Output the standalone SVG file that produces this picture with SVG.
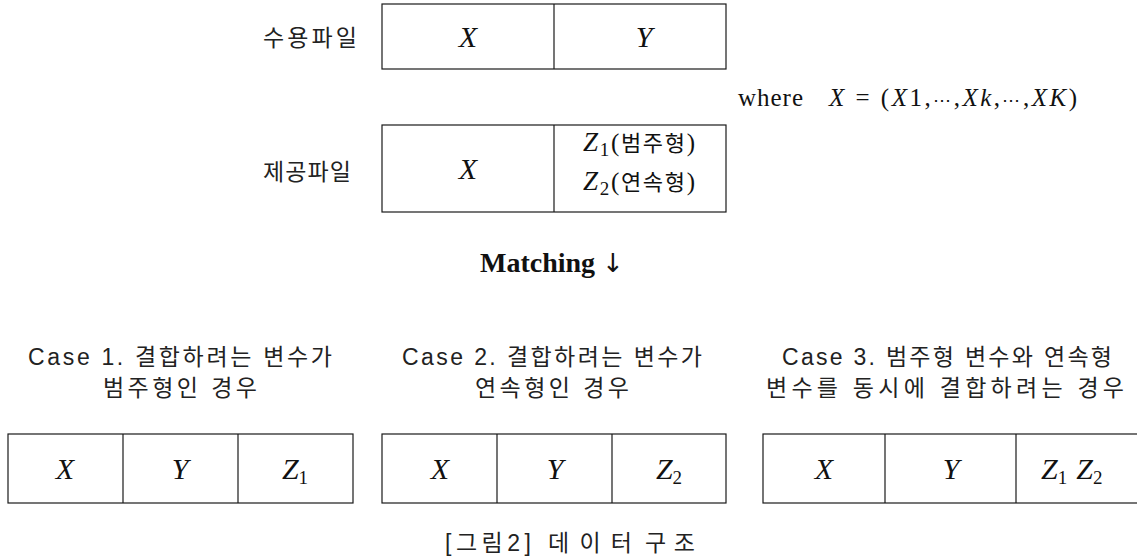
<svg xmlns="http://www.w3.org/2000/svg" width="1137" height="560" viewBox="0 0 1137 560">
<style>
.box{fill:#fff;stroke:#1a1a1a;stroke-width:1.2}
.div{stroke:#1a1a1a;stroke-width:1.2}
.kr{font-family:'Liberation Sans','Noto Sans CJK KR','Noto Sans CJK SC',sans-serif;font-size:23px;fill:#222}
.math{font-family:'Liberation Serif','Noto Sans CJK KR',serif;font-size:30px;font-style:italic;fill:#111}
.sub{font-style:normal;font-size:19px}
.mix{font-family:'Liberation Serif','Noto Sans CJK KR',serif;font-size:25px;fill:#111}
.dots{font-family:'DejaVu Serif',serif;font-size:18px}
</style>
<g id="receiving-file">
  <text class="kr" x="310" y="46" text-anchor="middle" textLength="94" lengthAdjust="spacing">수용파일</text>
  <rect class="box" x="382" y="4" width="344" height="65"/>
  <line class="div" x1="554" y1="4" x2="554" y2="69"/>
  <text class="math" x="468" y="47" text-anchor="middle">X</text>
  <text class="math" x="644" y="47" text-anchor="middle">Y</text>
</g>
<g id="where-note">
  <text class="mix" x="738" y="106" textLength="65" lengthAdjust="spacing">where</text>
  <text class="mix" x="829" y="106" textLength="248" lengthAdjust="spacing"><tspan font-style="italic">X</tspan> = (<tspan font-style="italic">X</tspan>1,<tspan class="dots">⋯</tspan>,<tspan font-style="italic">Xk</tspan>,<tspan class="dots">⋯</tspan>,<tspan font-style="italic">XK</tspan>)</text>
</g>
<g id="providing-file">
  <text class="kr" x="307" y="180" text-anchor="middle" textLength="88" lengthAdjust="spacing">제공파일</text>
  <rect class="box" x="382" y="125" width="344" height="87"/>
  <line class="div" x1="554" y1="125" x2="554" y2="212"/>
  <text class="math" x="468" y="179" text-anchor="middle">X</text>
  <text class="mix" x="583" y="151" textLength="112" lengthAdjust="spacing"><tspan font-style="italic" font-size="27">Z</tspan><tspan class="sub" dy="5">1</tspan><tspan dy="-5">(</tspan><tspan font-family="Noto Sans CJK KR" font-size="22">범주형</tspan>)</text>
  <text class="mix" x="583" y="190" textLength="112" lengthAdjust="spacing"><tspan font-style="italic" font-size="27">Z</tspan><tspan class="sub" dy="5">2</tspan><tspan dy="-5">(</tspan><tspan font-family="Noto Sans CJK KR" font-size="22">연속형</tspan>)</text>
</g>
<g id="matching">
  <text x="480" y="272" font-family="'Liberation Serif',serif" font-weight="bold" font-size="28" fill="#111">Matching <tspan font-family="'DejaVu Sans',sans-serif" font-weight="normal" font-size="26">↓</tspan></text>
</g>
<g id="case1">
  <text class="kr" x="28" y="365" textLength="304" lengthAdjust="spacing">Case 1. 결합하려는 변수가</text>
  <text class="kr" x="180" y="396" text-anchor="middle" textLength="154" lengthAdjust="spacing">범주형인 경우</text>
  <rect class="box" x="8" y="434" width="345" height="69"/>
  <line class="div" x1="123" y1="434" x2="123" y2="503"/>
  <line class="div" x1="238" y1="434" x2="238" y2="503"/>
  <text class="math" x="65" y="479" text-anchor="middle">X</text>
  <text class="math" x="180" y="479" text-anchor="middle">Y</text>
  <text class="math" x="295" y="479" text-anchor="middle" font-size="27">Z<tspan class="sub" dy="5">1</tspan></text>
</g>
<g id="case2">
  <text class="kr" x="402" y="365" textLength="300" lengthAdjust="spacing">Case 2. 결합하려는 변수가</text>
  <text class="kr" x="552" y="396" text-anchor="middle" textLength="154" lengthAdjust="spacing">연속형인 경우</text>
  <rect class="box" x="382" y="434" width="344" height="69"/>
  <line class="div" x1="497" y1="434" x2="497" y2="503"/>
  <line class="div" x1="612" y1="434" x2="612" y2="503"/>
  <text class="math" x="440" y="479" text-anchor="middle">X</text>
  <text class="math" x="555" y="479" text-anchor="middle">Y</text>
  <text class="math" x="669" y="479" text-anchor="middle" font-size="27">Z<tspan class="sub" dy="5">2</tspan></text>
</g>
<g id="case3">
  <text class="kr" x="782" y="365" textLength="330" lengthAdjust="spacing">Case 3. 범주형 변수와 연속형</text>
  <text class="kr" x="945" y="396" text-anchor="middle" textLength="358" lengthAdjust="spacing">변수를 동시에 결합하려는 경우</text>
  <rect class="box" x="763" y="434" width="380" height="69"/>
  <line class="div" x1="885" y1="434" x2="885" y2="503"/>
  <line class="div" x1="1016" y1="434" x2="1016" y2="503"/>
  <text class="math" x="824" y="479" text-anchor="middle">X</text>
  <text class="math" x="951" y="479" text-anchor="middle">Y</text>
  <text class="math" x="1041" y="479" font-size="27">Z<tspan class="sub" dy="5">1</tspan><tspan dy="-5" dx="9">Z</tspan><tspan class="sub" dy="5">2</tspan></text>
</g>
<g id="connectors"></g>
<g id="caption">
  <text class="kr" y="551"><tspan x="445" textLength="86" lengthAdjust="spacing">[그림2]</tspan><tspan x="548" textLength="84" lengthAdjust="spacing">데이터</tspan><tspan x="645" textLength="50" lengthAdjust="spacing">구조</tspan></text>
</g>
</svg>
